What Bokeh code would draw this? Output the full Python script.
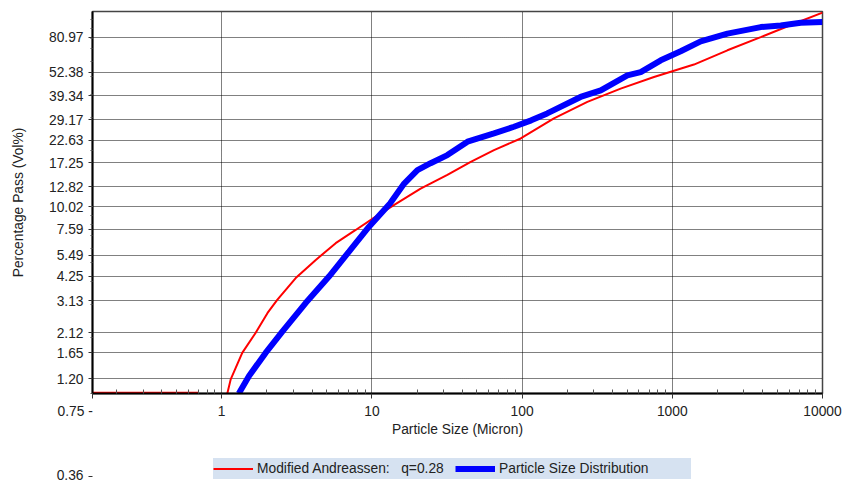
import math
from bokeh.plotting import figure
from bokeh.layouts import column
from bokeh.models import (Range1d, FixedTicker, PrintfTickFormatter, Legend,
                          LegendItem, CustomJSTickFormatter)
from bokeh.embed import file_html
from bokeh.resources import INLINE

# ---------------- data ----------------
x_ticks = [1, 10, 100, 1000, 10000]
y_ticks = [1.20, 1.65, 2.12, 3.13, 4.25, 5.49, 7.59, 10.02, 12.82, 17.25,
           22.63, 29.17, 39.34, 52.38, 80.97]
y_extra_ticks = [0.75, 0.36]   # tick labels that sit below the plot box

NBSP = "\u00a0"
red_label = "Modified Andreassen:" + NBSP * 2 + " q=0.28"
blue_label = "Particle Size Distribution"

red_x = [1.09, 1.148, 1.37, 1.68, 2.02, 2.35, 3.11, 4.23, 5.74, 7.80, 10.6,
         14.0, 21.1, 31.8, 45.5, 65.0, 97.9, 163, 272, 453, 755, 1393, 2328,
         3880, 6460, 10000]
red_y = [1.0, 1.19, 1.65, 2.11, 2.70, 3.18, 4.15, 5.19, 6.38, 7.51, 8.85,
         10.2, 12.5, 14.8, 17.4, 20.1, 23.2, 29.7, 36.4, 42.9, 49.5, 57.7,
         68.8, 81.0, 95.5, 109.5]
red_floor_x = [0.138, 0.70]
red_floor_y = [1.01, 1.01]

blue_x = [1.30, 1.52, 1.96, 2.54, 3.62, 5.18, 7.04, 9.57, 13.2, 16.4, 20.1,
          24.6, 31.8, 43.3, 65.0, 88.3, 115, 147, 245, 334, 502, 616, 838,
          1137, 1545, 2328, 3880, 5270, 7160, 10000]
blue_y = [1.0, 1.24, 1.65, 2.15, 3.05, 4.23, 5.75, 7.82, 10.4, 13.3, 15.7,
          17.1, 18.9, 22.3, 24.7, 26.8, 29.0, 31.6, 38.7, 42.0, 50.5, 52.6,
          60.8, 68.0, 76.8, 84.5, 91.6, 93.5, 96.7, 97.4]

x_start, x_end = 0.138, 10000
y_start, y_end = 1.0, 111

FONT = "Liberation Sans"
FS = "13.8px"
TXT = "#222222"
RED, BLUE = "#ff0000", "#0000ff"

W, H = 851, 480
LEFT, RIGHT, TOP = 92, 29, 11
MAIN_H = 447                 # main plot canvas height
FRAME_BOTTOM = 393           # bottom of plot box
LEG_H = H - MAIN_H           # legend strip height

# ---------------- main plot ----------------
p = figure(width=W, height=MAIN_H, x_axis_type="log", y_axis_type="log",
           x_range=Range1d(x_start, x_end), y_range=Range1d(y_start, y_end),
           output_backend="svg", toolbar_location=None,
           min_border_left=LEFT, min_border_right=RIGHT, min_border_top=TOP,
           min_border_bottom=MAIN_H - FRAME_BOTTOM)
p.background_fill_color = "white"
p.border_fill_color = "white"
p.outline_line_color = "#444444"
p.outline_line_width = 1.5

# x axis (the stray "0.75 -" tick text of the original is printed at its left end)
low_label = "%.2f%s-" % (y_extra_ticks[0], NBSP) + NBSP * 9
x_minor = [m * 10.0 ** e for e in range(-1, 4) for m in range(2, 10)]
xa = p.xaxis[0]
xa.ticker = FixedTicker(ticks=[x_start] + x_ticks, minor_ticks=x_minor)
xa.formatter = CustomJSTickFormatter(
    args=dict(low=x_start, lab=low_label),
    code="return (tick <= low * 1.0001) ? lab : String(Math.round(tick));")
xa.axis_label = "Particle Size (Micron)"
xa.axis_line_width = 2
xa.axis_line_color = "black"
xa.major_tick_out = 5
xa.major_tick_in = 0
xa.minor_tick_in = 4
xa.minor_tick_out = 0
xa.major_label_standoff = 5
xa.axis_label_standoff = 0

y_minor = [m * 10.0 ** e for e in range(0, 3) for m in range(1, 10)]
ya = p.yaxis[0]
ya.ticker = FixedTicker(ticks=y_ticks, minor_ticks=y_minor)
ya.formatter = PrintfTickFormatter(format="%.2f")
ya.axis_label = "Percentage Pass (Vol%)"
ya.axis_line_width = 2
ya.axis_line_color = "black"
ya.major_tick_out = 4
ya.major_tick_in = 0
ya.minor_tick_in = 0
ya.minor_tick_out = 2
ya.major_label_standoff = 5
ya.axis_label_standoff = 20

for ax in (xa, ya):
    ax.major_label_text_font = FONT
    ax.major_label_text_font_size = FS
    ax.major_label_text_color = TXT
    ax.axis_label_text_font = FONT
    ax.axis_label_text_font_size = FS
    ax.axis_label_text_font_style = "normal"
    ax.axis_label_text_color = TXT
    ax.major_tick_line_color = "#333333"
    ax.minor_tick_line_color = "#555555"

p.xgrid[0].ticker = FixedTicker(ticks=x_ticks)
for g in (p.xgrid[0], p.ygrid[0]):
    g.grid_line_color = "#000000"
    g.grid_line_dash = "1 1"
    g.grid_line_width = 1

p.line(red_floor_x, red_floor_y, line_color=RED, line_width=2)
p.line(red_x, red_y, line_color=RED, line_width=2)
p.line(blue_x, blue_y, line_color=BLUE, line_width=6)

# ---------------- legend strip (continues the same log y scale) ----------
frame_h = FRAME_BOTTOM - TOP
ppd = frame_h / math.log10(y_end / y_start)          # pixels per decade
b_top = y_end / 10 ** ((MAIN_H - TOP) / ppd)
b_bottom = y_end / 10 ** ((H - TOP) / ppd)

b = figure(width=W, height=LEG_H, y_axis_type="log",
           x_range=Range1d(0, 1), y_range=Range1d(b_bottom, b_top),
           x_axis_location=None, output_backend="svg", toolbar_location=None,
           min_border_left=LEFT, min_border_right=RIGHT, min_border_top=0,
           min_border_bottom=0)
b.outline_line_color = None
b.background_fill_color = "white"
b.border_fill_color = "white"
b.xgrid.visible = False
b.ygrid.visible = False
ba = b.yaxis[0]
ba.ticker = FixedTicker(ticks=[y_extra_ticks[1]])
ba.formatter = PrintfTickFormatter(format="%.2f")
ba.axis_line_color = None
ba.major_tick_out = 4
ba.major_tick_in = 0
ba.minor_tick_out = 0
ba.minor_tick_in = 0
ba.major_label_standoff = 5
ba.major_label_text_font = FONT
ba.major_label_text_font_size = FS
ba.major_label_text_color = TXT
ba.major_tick_line_color = "#333333"

# same series drawn in the strip (they fall outside its ranges) so the
# legend has real glyph renderers to show
lr = b.line(red_x, red_y, line_color=RED, line_width=2)
lb = b.line(blue_x, blue_y, line_color=BLUE, line_width=6)
legend = Legend(items=[LegendItem(label=red_label, renderers=[lr]),
                       LegendItem(label=blue_label, renderers=[lb])],
                location=(121, 1), orientation="horizontal",
                glyph_width=40, glyph_height=21, label_height=21,
                label_width=192, label_standoff=4, spacing=6, padding=4,
                margin=0, label_text_font=FONT, label_text_font_size=FS,
                label_text_color=TXT, background_fill_color="#d6e2f1",
                background_fill_alpha=1.0, border_line_color=None)
b.add_layout(legend)

layout = column(p, b, spacing=0)
open("out.html", "w").write(file_html(layout, INLINE))
